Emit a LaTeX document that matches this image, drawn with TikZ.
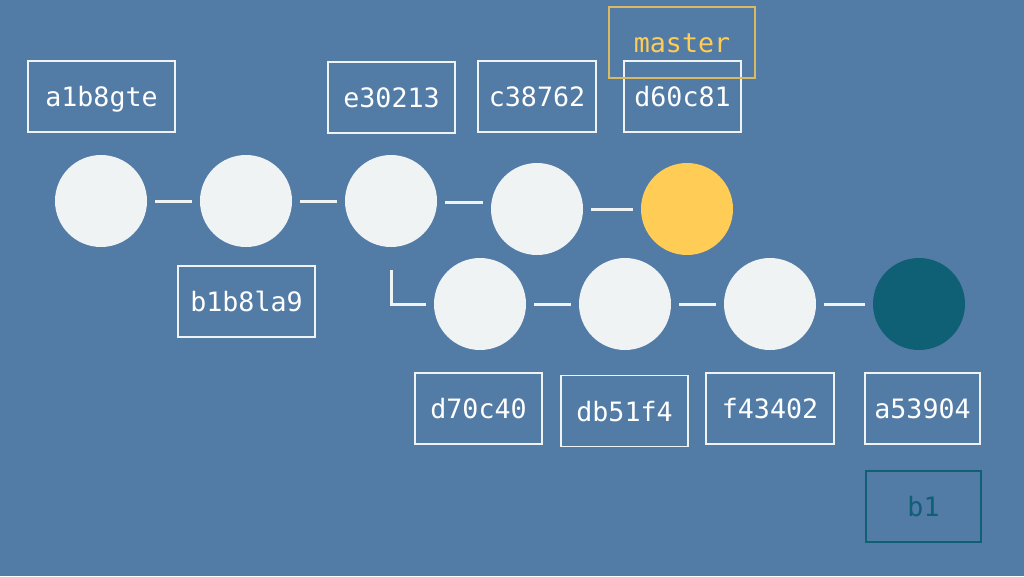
\documentclass[tikz,border=0pt]{standalone}
\usepackage{fontspec}
\setmonofont{DejaVu Sans Mono}
\definecolor{bg}{HTML}{527BA5}
\definecolor{dot}{HTML}{F0F3F4}
\definecolor{gold}{HTML}{FFCC55}
\definecolor{goldline}{HTML}{D9BA62}
\definecolor{teal}{HTML}{0F5F75}
\tikzset{
  commit/.style={circle, fill=dot, draw=none, minimum size=69pt, inner sep=0pt},
  link/.style={draw=dot, line width=2.25pt, shorten <=6pt, shorten >=5.5pt},
  hashbox/.style={draw=dot, line width=1pt, inner sep=0pt, minimum height=53.25pt,
    text height=15.5pt, text depth=0pt,
    font=\ttfamily\fontsize{20}{24}\selectfont, text=white},
}
\begin{document}
\begin{tikzpicture}[x=0.75pt,y=-0.75pt]
\useasboundingbox (0,0) rectangle (1024,576);
\fill[bg] (0,0) rectangle (1024,576);
% commits
\node[commit] (c1) at (101,201) {};
\node[commit] (c2) at (246,201) {};
\node[commit] (c3) at (391,201) {};
\node[commit] (c4) at (537,209) {};
\node[commit, fill=gold] (c5) at (687,209) {};
\node[commit] (c6) at (480,304) {};
\node[commit] (c7) at (625,304) {};
\node[commit] (c8) at (770,304) {};
\node[commit, fill=teal] (c9) at (919,304) {};
% connectors
\draw[link] (c1) -- (c2);
\draw[link] (c2) -- (c3);
\draw[link] ([yshift=-0.75pt]c3.east) -- ([yshift=-0.75pt]c3.east -| c4.west);
\draw[link] (c4) -- (c5);
\draw[link, shorten <=17pt, line join=miter] (c3.south) |- (c6.west);
\draw[link] (c6) -- (c7);
\draw[link] (c7) -- (c8);
\draw[link] (c8) -- (c9);
% labels
\node[hashbox, minimum width=110.25pt] (l1) at (101.5,96.5) {a1b8gte};
\node[hashbox, minimum width=102.75pt] (l2) at (246.5,301.5) {b1b8la9};
\node[hashbox, minimum width=95.25pt] (l3) at (391.5,97.5) {e30213};
\node[hashbox, minimum width=88.5pt] (l4) at (537,96.5) {c38762};
\node[hashbox, minimum width=87.75pt] (l5) at (682.5,96.5) {d60c81};
\node[hashbox, minimum width=109.5pt, draw=goldline, text=gold] (m) at (682,42.5) {master};
\node[hashbox, minimum width=95.25pt] (l6) at (478.5,408.5) {d70c40};
\node[hashbox, minimum width=95.25pt] (l7) at (624.5,411) {db51f4};
\node[hashbox, minimum width=96pt] (l8) at (770,408.5) {f43402};
\node[hashbox, minimum width=86.25pt] (l9) at (922.5,408.5) {a53904};
\node[hashbox, minimum width=86.25pt, draw=teal, text=teal] (b) at (923.5,506.5) {b1};
\end{tikzpicture}
\end{document}
